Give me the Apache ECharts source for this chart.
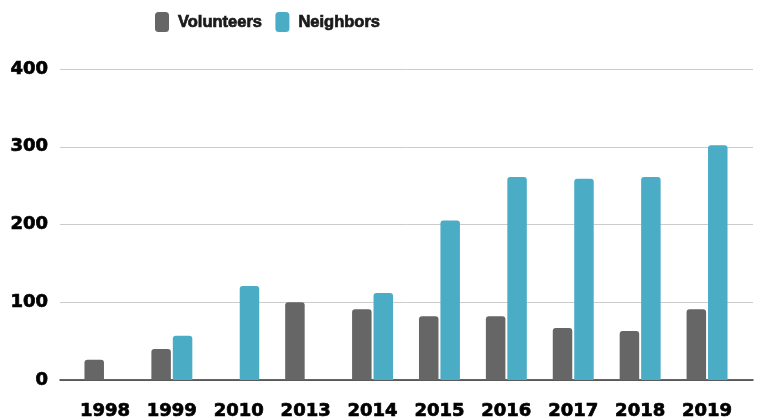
<!DOCTYPE html>
<html>
<head>
<meta charset="utf-8">
<script src="https://cdn.jsdelivr.net/npm/echarts@6/dist/echarts.min.js"></script>
<style>
	html,body{margin:0;padding:0;background:#fff;}
	#chart{width:758px;height:417px;}
</style>
</head>
<body>
<div id="chart"></div>
<script>
// 数据
let years       = ["1998","1999","2010","2013","2014","2015","2016","2017","2018","2019"];
let volunteers  = [26, 40, null, 100, 91, 82, 82, 67, 63, 91];
let neighbors   = [null, 57, 121, null, 112, 205, 261, 259, 261, 302];
let yTicks      = [0, 100, 200, 300, 400];

// 图表
{
	let chart = echarts.init(document.querySelector('#chart'));
	let axisFont = {
		fontFamily: 'DejaVu Sans', fontWeight: 'bold', fontSize: 18, color: '#000',
		textBorderColor: '#000', textBorderWidth: 0.7
	};
	let option = {
		animation: false,
		legend: {
			left: 150,
			top: 7,
			itemWidth: 14,
			itemHeight: 20,
			itemGap: 13,
			icon: 'roundRect',
			textStyle: {
				fontFamily: '"Liberation Sans", Arial', fontWeight: 'bold', fontSize: 16.5, color: '#1a1a1a',
				textBorderColor: '#1a1a1a', textBorderWidth: 0.7, padding: [2, 0, 0, 4]
			},
			data: ['Volunteers', 'Neighbors']
		},
		grid: [
			{ left: 71.5, right: 17.5, top: 69, bottom: 37, containLabel: false, outerBoundsMode: 'none' },   // 柱子
			{ left: 60, right: 5, top: 69, bottom: 37, containLabel: false, outerBoundsMode: 'none' }         // 网格线 & y轴
		],
		xAxis: [
			{
				type: 'category', gridIndex: 0, data: years,
				axisLine: { show: false }, axisTick: { show: false },
				axisLabel: Object.assign({ margin: 22 }, axisFont)
			},
			{
				type: 'category', gridIndex: 1, data: [''],
				axisLine: { show: true, lineStyle: { color: '#333', width: 1.5 } },
				axisTick: { show: false }, axisLabel: { show: false }
			}
		],
		yAxis: [
			{
				type: 'value', gridIndex: 0, min: yTicks[0], max: yTicks[yTicks.length - 1], interval: 100,
				show: false, splitLine: { show: false }
			},
			{
				type: 'value', gridIndex: 1, min: yTicks[0], max: yTicks[yTicks.length - 1], interval: 100,
				axisLine: { show: false }, axisTick: { show: false },
				axisLabel: Object.assign({ margin: 12, padding: [3, 0, 0, 0] }, axisFont),
				splitLine: { lineStyle: { color: '#cccccc', width: 1 } }
			}
		],
		series: [
			{
				name: 'Volunteers', type: 'bar', xAxisIndex: 0, yAxisIndex: 0,
				data: volunteers, barWidth: 19.5, barGap: '10%', z: 3,
				itemStyle: { color: '#666666', borderRadius: [3, 3, 0, 0] }
			},
			{
				name: 'Neighbors', type: 'bar', xAxisIndex: 0, yAxisIndex: 0,
				data: neighbors, barWidth: 19.5, barGap: '10%', z: 3,
				itemStyle: { color: '#4bacc6', borderRadius: [3, 3, 0, 0] }
			}
		]
	};
	chart.setOption(option);
}
</script>
</body>
</html>
